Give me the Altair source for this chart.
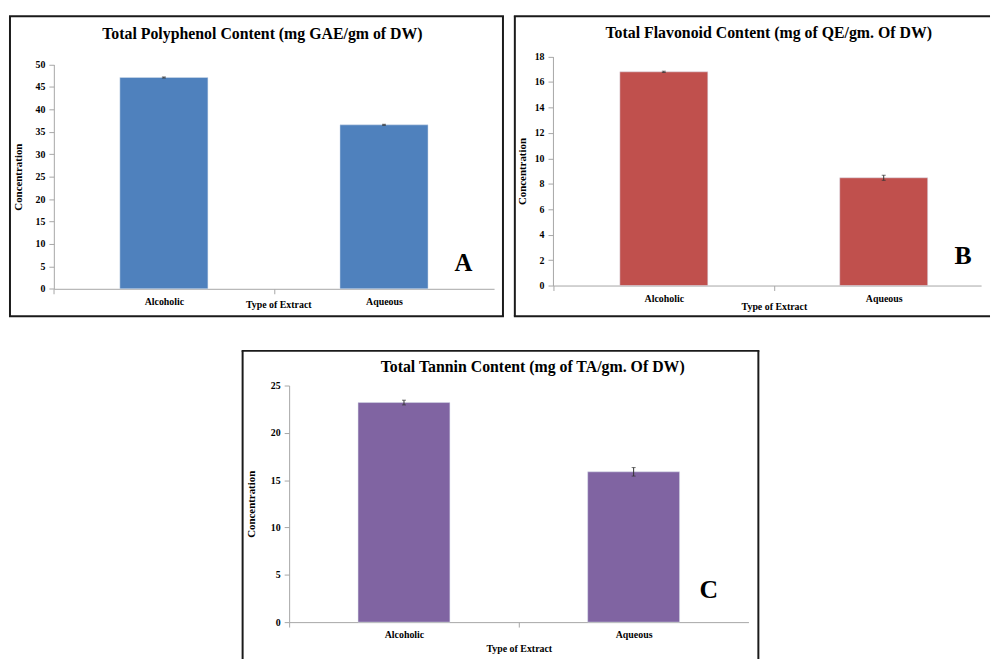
import altair as alt
import pandas as pd

# ---------------- data ----------------
categories = ["Alcoholic", "Aqueous"]

poly_values = [47.1, 36.55]
poly_errors = [0.12, 0.12]
flav_values = [16.8, 8.47]
flav_errors = [0.05, 0.2]
tann_values = [23.2, 15.88]
tann_errors = [0.25, 0.45]

poly_ticks = [0, 5, 10, 15, 20, 25, 30, 35, 40, 45, 50]
flav_ticks = [0, 2, 4, 6, 8, 10, 12, 14, 16, 18]
tann_ticks = [0, 5, 10, 15, 20, 25]

panel_titles = [
    "Total Polyphenol Content (mg GAE/gm of DW)",
    "Total Flavonoid Content (mg of QE/gm. Of DW)",
    "Total Tannin Content (mg of TA/gm. Of DW)",
]
panel_letters = ["A", "B", "C"]
x_title = "Type of Extract"
y_title = "Concentration"

colors = ["#4F81BD", "#C0504D", "#8064A2"]

FONT = "Liberation Serif"
BORDER = "#1a1a1a"
VW, VH = 983, 651   # whole drawing area


def panel(values, errors, ticks, color, title, letter, g):
    df = pd.DataFrame({
        "category": categories,
        "value": values,
        "lo": [v - e for v, e in zip(values, errors)],
        "hi": [v + e for v, e in zip(values, errors)],
    })
    x0, x1 = g["x0"], g["x1"]
    yb, yt = g["yb"], g["yt"]
    half = g["step"] / 2.0

    def xscale():
        return alt.Scale(domain=categories, range=[x0, x1], paddingInner=0.6,
                         paddingOuter=g["po"], align=g["align"])

    def yscale():
        return alt.Scale(domain=[0, ticks[-1]], range=[yb, yt], nice=False, zero=True)

    xaxis = alt.Axis(
        orient="bottom", title=x_title, offset=yb - VH, labelAngle=0,
        tickOffset=-half, labelOffset=half,
        titleX=g["xtx"], titleY=g["xty"], titleBaseline="middle", titleAlign="center",
        labelOverlap=False,
    )
    yaxis = alt.Axis(
        orient="left", title=y_title, values=ticks, offset=-x0,
        titleX=g["ytx"], titleY=(yb + yt) / 2.0, titleAngle=270, titleFontSize=11,
        titleBaseline="middle", titleAlign="center", labelOverlap=False,
    )

    bars = alt.Chart(df).mark_bar(color=color, stroke="#d9e1ec", strokeOpacity=0.5, strokeWidth=1).encode(
        x=alt.X("category:N", sort=categories, scale=xscale(), axis=xaxis),
        y=alt.Y("value:Q", scale=yscale(), axis=yaxis),
    )
    err = alt.Chart(df).mark_rule(color="#333333", strokeWidth=1).encode(
        x=alt.X("category:N", sort=categories, scale=xscale(), axis=None),
        y=alt.Y("lo:Q", scale=yscale(), axis=None), y2="hi:Q",
    )
    cap_lo = alt.Chart(df).mark_tick(color="#333333", thickness=1, size=4).encode(
        x=alt.X("category:N", sort=categories, scale=xscale(), axis=None),
        y=alt.Y("lo:Q", scale=yscale(), axis=None))
    cap_hi = alt.Chart(df).mark_tick(color="#333333", thickness=1, size=4).encode(
        x=alt.X("category:N", sort=categories, scale=xscale(), axis=None),
        y=alt.Y("hi:Q", scale=yscale(), axis=None))

    ttl = alt.Chart(pd.DataFrame({"label": [title]})).mark_text(
        font=FONT, fontWeight="bold", fontSize=16, color="black",
        align="center", baseline="middle",
    ).encode(x=alt.value(g["tx"]), y=alt.value(g["ty"]), text="label:N")

    let = alt.Chart(pd.DataFrame({"label": [letter]})).mark_text(
        font=FONT, fontWeight="bold", fontSize=g["lfs"], color="black",
        align="center", baseline="middle",
    ).encode(x=alt.value(g["lx"]), y=alt.value(g["ly"]), text="label:N")

    one = pd.DataFrame({"k": [0]})
    L, T, R, B = g["box"]
    rule = dict(color=BORDER, strokeWidth=2)
    layers = [bars, err, cap_lo, cap_hi, ttl, let]
    sides = g["sides"]
    if "top" in sides:
        layers.append(alt.Chart(one).mark_rule(**rule).encode(
            x=alt.value(L - 1), x2=alt.value(R + 1), y=alt.value(T)))
    if "bottom" in sides:
        layers.append(alt.Chart(one).mark_rule(**rule).encode(
            x=alt.value(L - 1), x2=alt.value(R + 1), y=alt.value(B)))
    if "left" in sides:
        layers.append(alt.Chart(one).mark_rule(**rule).encode(
            x=alt.value(L), y=alt.value(T), y2=alt.value(B)))
    if "right" in sides:
        layers.append(alt.Chart(one).mark_rule(**rule).encode(
            x=alt.value(R), y=alt.value(T), y2=alt.value(B)))
    return layers


# geometry in drawing coordinates (page pixel minus 8)
gA = dict(x0=45.3, x1=490, step=222.35, po=0.3, align=0.5, yb=280.3, yt=53.7,
          xtx=272, xty=15.7, ytx=-35.3, tx=256, ty=23,
          lx=459, ly=254, lfs=25, box=(1, 5, 499, 308),
          sides=["top", "bottom", "left", "right"])
gB = dict(x0=549.5, x1=982, step=222, po=0.2736, align=0.556, yb=277, yt=45.7,
          xtx=772.7, xty=21, ytx=-30.8, tx=767.5, ty=22.2,
          lx=963.7, ly=247, lfs=26, box=(511, 5, 990, 308),
          sides=["top", "bottom", "left"])
gC = dict(x0=283, x1=747, step=232, po=0.3, align=0.5, yb=617, yt=378,
          xtx=515, xty=27, ytx=-38, tx=529, ty=359.7,
          lx=707, ly=585, lfs=26, box=(236, 343, 757, 660),
          sides=["top", "left", "right"])

layers = []
layers += panel(poly_values, poly_errors, poly_ticks, colors[0], panel_titles[0], panel_letters[0], gA)
layers += panel(flav_values, flav_errors, flav_ticks, colors[1], panel_titles[1], panel_letters[1], gB)
layers += panel(tann_values, tann_errors, tann_ticks, colors[2], panel_titles[2], panel_letters[2], gC)

chart = alt.layer(*layers).resolve_scale(
    x="independent", y="independent"
).resolve_axis(
    x="independent", y="independent"
).properties(
    width=VW, height=VH, padding=0
).configure_view(stroke=None).configure_axis(
    grid=False,
    labelFont=FONT, labelFontWeight="bold", labelFontSize=10, labelColor="black",
    titleFont=FONT, titleFontWeight="bold", titleFontSize=10, titleColor="black",
    domainColor="#A6A6A6", tickColor="#A6A6A6", tickSize=5, labelPadding=3,
).configure_axisY(labelPadding=4)

chart.save("out.html", embed_options={"renderer": "svg", "actions": False})
